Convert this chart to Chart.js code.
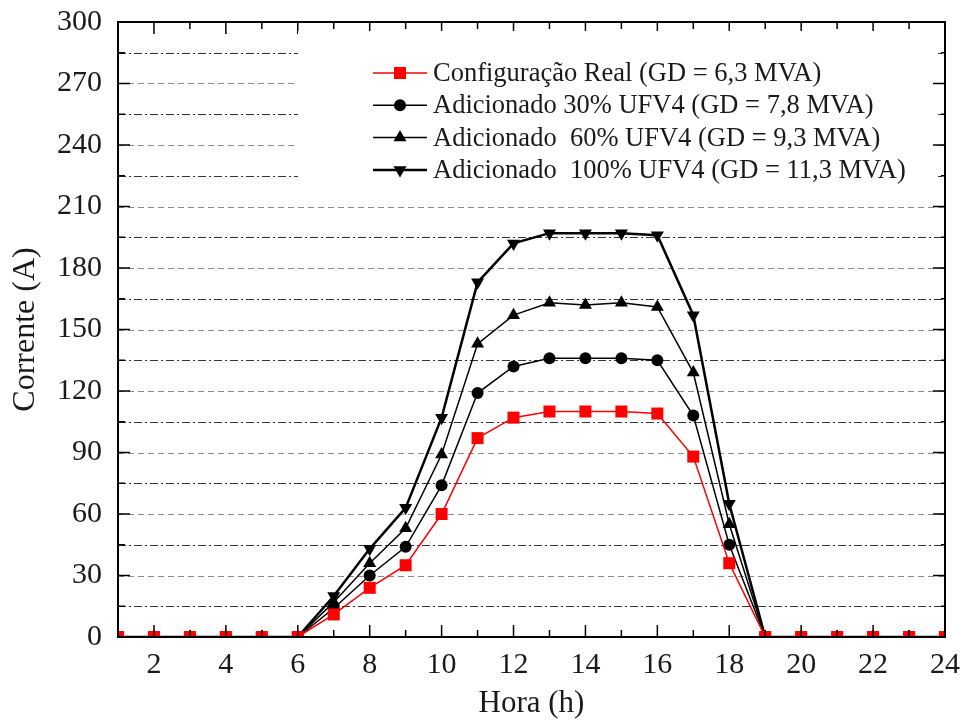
<!DOCTYPE html>
<html>
<head>
<meta charset="utf-8">
<script src="https://cdn.jsdelivr.net/npm/chart.js@4.4.1/dist/chart.umd.min.js"></script>
<style>
  html, body { margin: 0; padding: 0; background: #fff; }
  #wrap { width: 963px; height: 722px; }
</style>
</head>
<body>
<div id="wrap"><canvas id="corrente" width="963" height="722"></canvas></div>
<script>
const horas = [1, 2, 3, 4, 5, 6, 7, 8, 9, 10, 11, 12, 13, 14, 15, 16, 17, 18, 19, 20, 21, 22, 23, 24]
const real = [0, 0, 0, 0, 0, 0, 11, 24, 35, 60, 97, 107, 110, 110, 110, 109, 88, 36, 0, 0, 0, 0, 0, 0]
const ufv30 = [0, 0, 0, 0, 0, 0, 14, 30, 44, 74, 119, 132, 136, 136, 136, 135, 108, 45, 0, 0, 0, 0, 0, 0]
const ufv60 = [0, 0, 0, 0, 0, 0, 17, 36, 53, 89, 143, 157, 163, 162, 163, 161, 129, 55, 0, 0, 0, 0, 0, 0]
const ufv100 = [0, 0, 0, 0, 0, 0, 20, 43, 63, 107, 173, 192, 197, 197, 197, 196, 157, 65, 0, 0, 0, 0, 0, 0]
const nomes = [
  'Configuração Real (GD = 6,3 MVA)',
  'Adicionado 30% UFV4 (GD = 7,8 MVA)',
  'Adicionado  60% UFV4 (GD = 9,3 MVA)',
  'Adicionado  100% UFV4 (GD = 11,3 MVA)'
]

const fonte = 'Liberation Serif, Times New Roman, serif'

function serie(valores, i, cor, estilo, raio, largura, rot) {
  return {
    label: nomes[i],
    data: horas.map((h, k) => ({ x: h, y: valores[k] })),
    borderColor: cor,
    backgroundColor: cor,
    borderWidth: largura,
    pointStyle: estilo,
    pointRadius: raio,
    pointRotation: rot || 0,
    pointBorderWidth: 0,
    pointHoverRadius: raio,
    tension: 0
  }
}

// grade, ticks internos, moldura e legenda
const moldura = {
  id: 'moldura',
  beforeDatasetsDraw(chart) {
    const { ctx, chartArea: a, scales: { x, y } } = chart
    ctx.save()
    ctx.lineWidth = 1
    for (let v = 15; v < 300; v += 15) {
      const py = Math.round(y.getPixelForValue(v)) + 0.5
      if (v % 30 === 0) {
        ctx.strokeStyle = '#8c8c8c'
        ctx.setLineDash([6, 4])
      } else {
        ctx.strokeStyle = '#333'
        ctx.setLineDash([8, 3, 2, 3])
      }
      ctx.beginPath()
      ctx.moveTo(a.left, py)
      ctx.lineTo(a.right, py)
      ctx.stroke()
    }
    // ticks do eixo superior (ficam sob a caixa da legenda)
    ctx.setLineDash([])
    ctx.strokeStyle = '#000'
    ctx.lineWidth = 1.5
    ctx.beginPath()
    for (let h = 1; h <= 24; h++) {
      const px = x.getPixelForValue(h)
      const len = h % 2 === 0 ? 12 : 7
      ctx.moveTo(px, a.top); ctx.lineTo(px, a.top + len)
    }
    ctx.stroke()
    // caixa branca da legenda
    ctx.fillStyle = '#fff'
    ctx.fillRect(298, 31, 640, 164)
    ctx.restore()
  },
  afterDatasetsDraw(chart) {
    const { ctx, chartArea: a, scales: { x, y } } = chart
    ctx.save()
    ctx.strokeStyle = '#000'
    ctx.lineWidth = 2
    ctx.setLineDash([])
    ctx.strokeRect(a.left, a.top, a.right - a.left, a.bottom - a.top)
    ctx.lineWidth = 1.5
    ctx.beginPath()
    for (let v = 0; v <= 300; v += 15) {
      const py = y.getPixelForValue(v)
      const len = v % 30 === 0 ? 12 : 7
      ctx.moveTo(a.left, py); ctx.lineTo(a.left + len, py)
      ctx.moveTo(a.right, py); ctx.lineTo(a.right - (v % 30 === 0 ? len : 4), py)
    }
    for (let h = 1; h <= 24; h++) {
      const px = x.getPixelForValue(h)
      const len = h % 2 === 0 ? 12 : 7
      ctx.moveTo(px, a.bottom); ctx.lineTo(px, a.bottom - len)
    }
    ctx.stroke()

    // legenda
    const ds = chart.data.datasets
    ctx.font = '26.5px ' + fonte
    ctx.textBaseline = 'middle'
    ds.forEach((d, i) => {
      const yy = 73 + i * 32.3
      ctx.strokeStyle = d.borderColor
      ctx.lineWidth = d.borderWidth
      ctx.beginPath()
      ctx.moveTo(373, yy); ctx.lineTo(427, yy)
      ctx.stroke()
      ctx.fillStyle = d.backgroundColor
      Chart.helpers.drawPoint(ctx, {
        pointStyle: d.pointStyle, radius: d.pointRadius, rotation: d.pointRotation, borderWidth: 0
      }, 400, yy)
      ctx.fillStyle = '#1a1a1a'
      ctx.fillText(d.label, 433, yy + 1)
    })
    ctx.restore()
  }
}

const el = document.getElementById('corrente')

new Chart(el, {
  type: 'line',
  data: {
    datasets: [
      serie(real, 0, '#ff0000', 'rect', 8.5, 1.5),
      serie(ufv30, 1, '#000000', 'circle', 6, 1.5),
      serie(ufv60, 2, '#000000', 'triangle', 7.5, 1.5),
      serie(ufv100, 3, '#000000', 'triangle', 7.5, 2.5, 180)
    ]
  },
  options: {
    responsive: false,
    animation: false,
    layout: { padding: { top: 22, right: 18, left: 0, bottom: 0 } },
    plugins: { legend: { display: false }, tooltip: { enabled: false } },
    scales: {
      x: {
        type: 'linear',
        min: 1,
        max: 24,
        grid: { display: false },
        border: { display: false },
        ticks: {
          stepSize: 1,
          autoSkip: false,
          maxRotation: 0,
          color: '#1a1a1a',
          padding: 2,
          font: { family: fonte, size: 30 },
          callback: v => (v % 2 === 0 ? v : '')
        },
        title: {
          display: true,
          text: 'Hora (h)',
          color: '#1a1a1a',
          padding: { top: 5, bottom: 0 },
          font: { family: fonte, size: 31 }
        },
        afterFit(s) { s.height = 85; s.paddingLeft = 0; s.paddingRight = 0 }
      },
      y: {
        min: 0,
        max: 300,
        grid: { display: false },
        border: { display: false },
        ticks: {
          stepSize: 30,
          color: '#1a1a1a',
          padding: 8,
          font: { family: fonte, size: 30 }
        },
        title: {
          display: true,
          text: 'Corrente (A)',
          color: '#1a1a1a',
          padding: { top: 6, bottom: 0 },
          font: { family: fonte, size: 32 }
        },
        afterFit(s) { s.width = 118; s.paddingTop = 0; s.paddingBottom = 0 }
      }
    }
  },
  plugins: [moldura]
})
</script>
</body>
</html>
